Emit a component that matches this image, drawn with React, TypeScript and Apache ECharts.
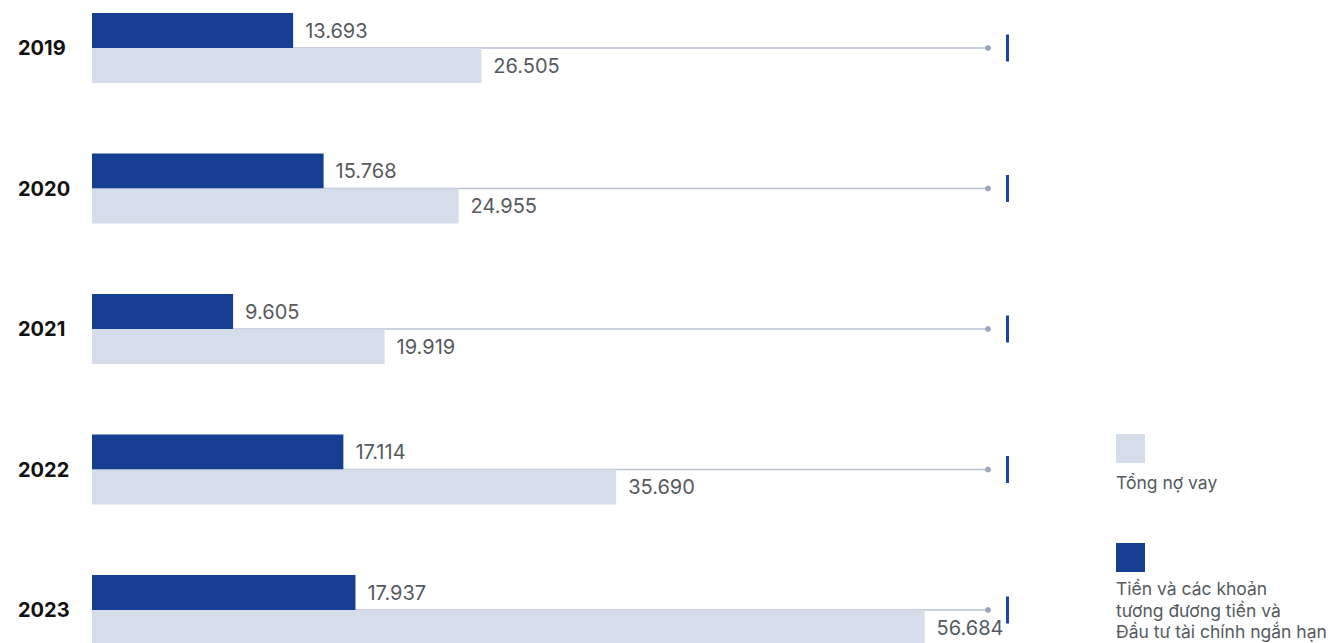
import React, { useEffect, useRef } from "react";
import * as echarts from "echarts";

const categories = ["2019", "2020", "2021", "2022", "2023"];
const cashValues = [13693, 15768, 9605, 17114, 17937];
const debtValues = [26505, 24955, 19919, 35690, 56684];
const seriesNames = [
  "Tiền và các khoản\ntương đương tiền và\nĐầu tư tài chính ngắn hạn",
  "Tổng nợ vay",
];
const seriesColors = ["#163f94", "#d4dde9"];
const axisMax = 61000;

const fmt = (v: number) => v.toLocaleString("de-DE");

const OFFSET = 30; // chart div is shifted up by this many px

export default function App() {
  const ref = useRef<HTMLDivElement>(null);
  useEffect(() => {
    if (!ref.current) return;
    const chart = echarts.init(ref.current, undefined, { renderer: "svg" });
    const font = "Inter, 'Noto Sans', sans-serif";
    const label = {
      show: true,
      position: "right" as const,
      distance: 12,
      fontFamily: font,
      fontSize: 20,
      color: "#555a5e",
      formatter: (p: any) => fmt(p.value),
    };
    chart.setOption({
      animation: false,
      backgroundColor: "#ffffff",
      grid: { left: 92, width: 896, top: OFFSET - 22.25, height: 702.5, containLabel: false },
      xAxis: {
        type: "value",
        min: 0,
        max: axisMax,
        show: false,
      },
      yAxis: {
        type: "category",
        data: categories,
        inverse: true,
        axisLine: { show: false },
        axisTick: { show: false },
        splitLine: { show: false },
        axisLabel: {
          align: "left",
          margin: 74,
          fontFamily: font,
          fontWeight: "bold",
          fontSize: 20,
          color: "#111111",
        },
      },
      series: [
        {
          type: "custom",
          z: 1,
          silent: true,
          data: categories.map((c) => [0, c]),
          encode: { x: 0, y: 1 },
          renderItem: (params: any, api: any) => {
            const idx = api.value(1);
            const p = api.coord([0, idx]);
            const cs = params.coordSys;
            const y = p[1];
            const x0 = cs.x;
            const x1 = cs.x + cs.width;
            return {
              type: "group",
              children: [
                {
                  type: "line",
                  shape: { x1: x0, y1: y, x2: x1, y2: y },
                  style: { stroke: "#b9c0d3", lineWidth: 1.5 },
                },
                {
                  type: "circle",
                  shape: { cx: x1, cy: y, r: 3 },
                  style: { fill: "#9ea6bf" },
                },
                {
                  type: "rect",
                  shape: { x: x1 + 18, y: y - 13.5, width: 3, height: 27 },
                  style: { fill: "#1c44a0" },
                },
              ],
            };
          },
        },
        {
          name: seriesNames[0],
          type: "bar",
          z: 3,
          data: cashValues,
          barWidth: 35,
          barGap: "0%",
          itemStyle: { color: seriesColors[0] },
          label,
        },
        {
          name: seriesNames[1],
          type: "bar",
          z: 3,
          data: debtValues,
          barWidth: 35,
          barGap: "0%",
          itemStyle: { color: seriesColors[1] },
          label,
        },
      ],
      graphic: [
        { type: "rect", shape: { x: 1116, y: 434 + OFFSET, width: 29, height: 29 }, style: { fill: seriesColors[1] } },
        {
          type: "text",
          x: 1116,
          y: 473 + OFFSET,
          style: { text: seriesNames[1], fontFamily: font, fontSize: 17.5, fill: "#555a5e" },
        },
        { type: "rect", shape: { x: 1116, y: 543 + OFFSET, width: 29, height: 29 }, style: { fill: seriesColors[0] } },
        {
          type: "text",
          x: 1116,
          y: 578 + OFFSET,
          style: { text: seriesNames[0], fontFamily: font, fontSize: 17.5, lineHeight: 21.5, fill: "#555a5e" },
        },
      ],
    });
    return () => chart.dispose();
  }, []);
  return (
    <div style={{ position: "absolute", left: 0, top: 0, width: 1344, height: 643, overflow: "hidden" }}>
      <div
        ref={ref}
        style={{ position: "absolute", left: 0, top: -OFFSET, width: 1344, height: 643 + 2 * OFFSET + 20 }}
      />
    </div>
  );
}
